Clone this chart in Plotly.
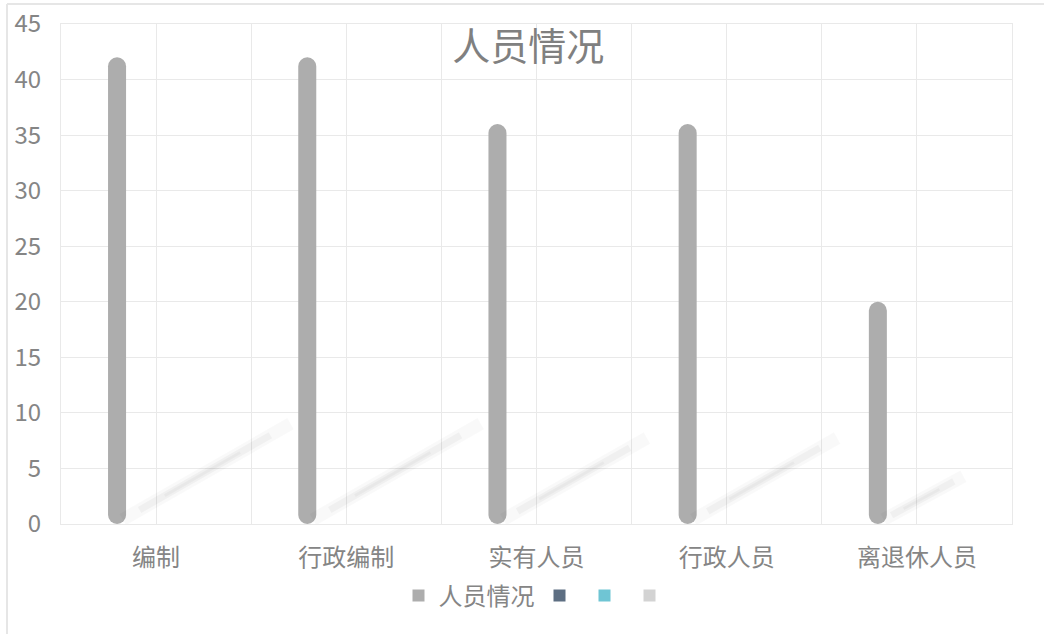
import plotly.graph_objects as go

# ---- data ----
categories = ["编制", "行政编制", "实有人员", "行政人员", "离退休人员"]
values = [42, 42, 36, 36, 20]
series_name = "人员情况"
empty_series_colors = ["#5d6e82", "#6fc5d4", "#d3d3d3"]
y_ticks = [0, 5, 10, 15, 20, 25, 30, 35, 40, 45]

# ---- style constants ----
FONT = "Noto Sans CJK SC, Noto Sans, sans-serif"
TXT = "#858585"
GRID = "#e9e9e9"
BAR = "#adadad"
PX_PER_CAT = 190.0
BAR_SHIFT = -39 / PX_PER_CAT   # bar centre relative to category centre
BAR_W = 18 / PX_PER_CAT
RADIUS = 9

xs = list(range(len(categories)))
bar_x = [i + BAR_SHIFT for i in xs]
fig = go.Figure()

# soft diagonal "reflection" shadows behind the bars (derived from values)
for i, v in zip(xs, values):
    x0 = i + BAR_SHIFT + 0.03
    y0 = 0.4
    x1 = x0 + v * 0.021
    y1 = v * 0.215
    fig.add_trace(go.Scatter(x=[x0, x1], y=[y0, y1], mode="lines",
                             line=dict(color="rgba(0,0,0,0.022)", width=13),
                             hoverinfo="skip", showlegend=False))
    fx0 = x0 + (x1 - x0) * 0.1
    fy0 = y0 + (y1 - y0) * 0.1
    fx1 = x0 + (x1 - x0) * 0.88
    fy1 = y0 + (y1 - y0) * 0.88
    fig.add_trace(go.Scatter(x=[fx0, fx1], y=[fy0, fy1], mode="lines",
                             line=dict(color="rgba(0,0,0,0.035)", width=7),
                             hoverinfo="skip", showlegend=False))
    gx0 = x0 + (x1 - x0) * 0.25
    gy0 = y0 + (y1 - y0) * 0.25
    gx1 = x0 + (x1 - x0) * 0.7
    gy1 = y0 + (y1 - y0) * 0.7
    fig.add_trace(go.Scatter(x=[gx0, gx1], y=[gy0, gy1], mode="lines",
                             line=dict(color="rgba(0,0,0,0.03)", width=3),
                             hoverinfo="skip", showlegend=False))

# main bars (explicit base -> rounded at both ends)
fig.add_trace(go.Bar(x=bar_x, y=values, base=[0] * len(values),
                     name=series_name, showlegend=False,
                     marker=dict(color=BAR, cornerradius=RADIUS, line=dict(width=0)),
                     width=BAR_W))
# legend entries
fig.add_trace(go.Bar(x=xs, y=[None] * len(xs), name=series_name,
                     marker=dict(color=BAR, line=dict(width=0))))
for k, c in enumerate(empty_series_colors):
    fig.add_trace(go.Bar(x=xs, y=[None] * len(xs), name="",
                         marker=dict(color=c, line=dict(width=0))))

fig.update_layout(
    width=1044, height=634,
    margin=dict(l=61, r=32, t=24, b=110),
    paper_bgcolor="white", plot_bgcolor="white",
    barmode="overlay",
    font=dict(family=FONT, color=TXT, size=24),
    title=dict(text=series_name, x=0.506, xref="container", xanchor="center",
               y=0.926, yanchor="middle",
               font=dict(family=FONT, size=38, color="#808080")),
    showlegend=True,
    legend=dict(orientation="h", x=0.5, xanchor="center", y=-0.144, yanchor="middle",
                font=dict(family=FONT, size=24, color=TXT),
                itemclick=False, traceorder="normal", itemwidth=30),
    xaxis=dict(range=[-0.5, len(categories) - 0.5], tickmode="array",
               tickvals=xs, ticktext=categories, showgrid=True, gridcolor=GRID,
               gridwidth=1, zeroline=False, showline=True, mirror=True,
               linecolor=GRID, linewidth=1, ticks="", ticklabelstandoff=12,
               automargin=False,
               tickfont=dict(family=FONT, size=24, color=TXT),
               minor=dict(tickmode="linear", tick0=0.5, dtick=1, showgrid=True,
                          gridcolor=GRID, gridwidth=1, ticks="")),
    yaxis=dict(range=[0, 45], tickmode="array", tickvals=y_ticks,
               showgrid=True, gridcolor=GRID, gridwidth=1, zeroline=False,
               showline=True, mirror=True, linecolor=GRID, linewidth=1,
               ticks="", ticklabelstandoff=14, automargin=False,
               tickfont=dict(family=FONT, size=24, color=TXT)),
    shapes=[
        dict(type="line", xref="paper", yref="paper",
             x0=(7 - 61) / 951, x1=(1044 - 61) / 951,
             y0=(524 - 4) / 500, y1=(524 - 4) / 500,
             line=dict(color="#e6e6e6", width=2), layer="below"),
        dict(type="line", xref="paper", yref="paper",
             x0=(7 - 61) / 951, x1=(7 - 61) / 951,
             y0=(524 - 4) / 500, y1=(524 - 634) / 500,
             line=dict(color="#e6e6e6", width=2), layer="below"),
    ],
)

fig.write_html("out.html")
